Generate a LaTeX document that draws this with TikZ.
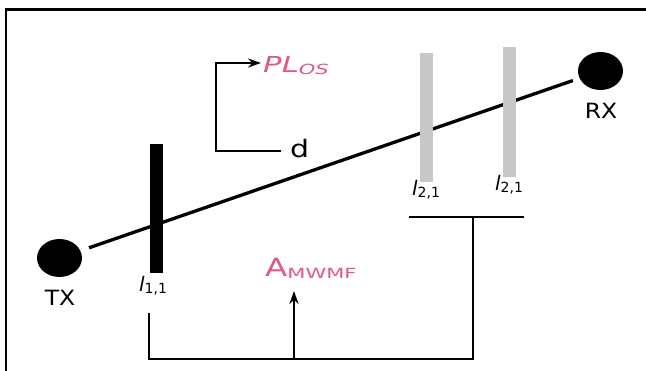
\documentclass[tikz,border=0pt]{standalone}
\usepackage{fontspec}
\setmainfont{DejaVu Sans}
\usetikzlibrary{arrows.meta,shapes.geometric}
\definecolor{pinktxt}{RGB}{224,90,130}
\definecolor{barg}{RGB}{200,200,200}
\begin{document}
\begin{tikzpicture}[x=1pt,y=-1pt,
  dev/.style={ellipse,fill=black,minimum width=45pt,minimum height=38pt,inner sep=0},
  barb/.style={rectangle,fill=black,minimum width=13pt,inner sep=0},
  barl/.style={rectangle,fill=barg,minimum width=13pt,inner sep=0},
  lbl/.style={inner sep=0},
  ln/.style={line width=3.3pt},
  br/.style={line width=2.7pt},
  arr/.style={br,-{Stealth[length=13pt,width=9pt]}},
  pk/.style={text=pinktxt,inner sep=0}]
\useasboundingbox (0,0) rectangle (646,371);
\fill[white] (0,0) rectangle (646,371);
% frame (only top and left edges visible)
\draw[line width=2.7pt] (6,380) -- (6,9.5) -- (660,9.5);
% devices
\node[dev] (tx) at (59.5,258) {};
\node[dev] (rx) at (600.5,71) {};
\node[lbl,anchor=north] (txl) at (60,290) {\scalebox{1.12}[1]{\fontsize{21}{23}\selectfont TX}};
\node[lbl,anchor=north] (rxl) at (601,103) {\scalebox{1.12}[1]{\fontsize{21}{23}\selectfont RX}};
% main link
\draw[ln,shorten <=9pt,shorten >=7pt] (tx) -- (rx);
% obstacles
\node[barb,minimum height=129pt] (b11) at (156.5,208.5) {};
\node[barl,minimum height=129pt] (b21) at (426.5,117.5) {};
\node[barl,minimum height=130pt] (b22) at (509,112) {};
\newcommand{\lsub}[1]{{\fontsize{20}{22}\selectfont\itshape l}\raisebox{-0.45ex}{\fontsize{14}{16}\selectfont #1}}
\node[inner sep=0,anchor=north] (l11) at (153,276) {\lsub{1,1}};
\node[inner sep=0,anchor=north] (l21a) at (426,180) {\lsub{2,1}};
\node[inner sep=0,anchor=north] (l21b) at (509,175) {\lsub{2,1}};
% bracket below l_{2,1}
\coordinate (h1) at (409,217);
\coordinate (h2) at (524,217);
\coordinate (hm) at (473,217);
\draw[br] (h1) -- (h2);
\coordinate (v1) at (149,313);
\coordinate (bm) at (294,359);
\draw[br] (v1) |- (bm) -| (hm);
% A_MWMF
\node[pk,anchor=base west] (amw) at (265,277) {\scalebox{1.3}[1]{\fontsize{25}{27}\selectfont A}\raisebox{-0.3ex}{\scalebox{1.5}[1]{\fontsize{14}{16}\selectfont MWMF}}};
\draw[arr] (bm) -- (294,291) coordinate (atip);
% PL_OS and d
\node[pk,anchor=base west] (plos) at (263,73) {\scalebox{1.4}[1]{\fontsize{22}{24}\selectfont\itshape PL}\raisebox{-0.3ex}{\scalebox{1.5}[1]{\fontsize{14}{16}\selectfont\itshape OS}}};
\node[inner sep=0,anchor=base west] (d) at (290,158) {\scalebox{1.25}[1]{\fontsize{24}{26}\selectfont d}};
\coordinate (dend) at (281,151);
\coordinate (corner) at (216,151);
\coordinate (ptip) at (261,63);
\draw[arr] (dend) -- (corner) |- (ptip);
\end{tikzpicture}
\end{document}
